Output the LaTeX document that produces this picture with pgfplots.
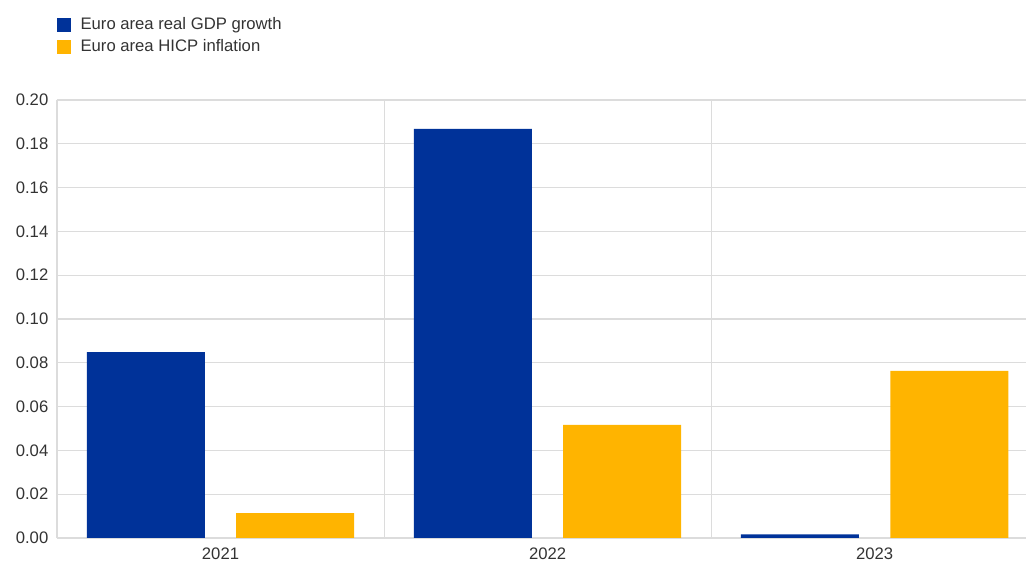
\documentclass[border=0pt]{standalone}
\usepackage{fontspec}
\setmainfont{Liberation Sans}
\usepackage{pgfplots}
\pgfplotsset{compat=1.18}
\definecolor{ecbblue}{HTML}{003299}
\definecolor{ecbyellow}{HTML}{FFB400}
\definecolor{gridgray}{HTML}{DCDCDC}
\definecolor{txt}{HTML}{333333}
\begin{document}
\begin{tikzpicture}
\begin{axis}[
  scale only axis,
  width=726.75pt, height=328.5pt,
  xmin=-0.5, xmax=2.463,
  ymin=0, ymax=0.2,
  ytick={0,0.02,...,0.2},
  xtick={0,1,2},
  xticklabels={2021,2022,2023},
  minor xtick={0.5,1.5},
  xminorgrids=true, ymajorgrids=true,
  grid style={gridgray, line width=0.8pt},
  minor grid style={gridgray, line width=0.8pt},
  major tick length=0pt, minor tick length=0pt,
  axis x line*=bottom, axis y line*=left,
  axis line style={gridgray, line width=0.8pt, -},
  tick label style={font=\fontsize{12.5}{14}\selectfont, text=txt},
  /pgf/number format/assume math mode=true,
  yticklabel style={/pgf/number format/fixed, /pgf/number format/zerofill, /pgf/number format/precision=2, xshift=-3pt},
  xticklabel style={yshift=-6.5pt, inner ysep=1pt},
  legend style={draw=none, fill=none, at={(0,1)}, anchor=north west, xshift=-3pt, yshift=66pt,
     font=\fontsize{12.5}{14}\selectfont, text=txt, row sep=2pt, column sep=5pt, cells={anchor=west}},
  legend image code/.code={\fill[#1] (0pt,-5.25pt) rectangle (10.5pt,5.25pt);},
  clip=true,
]
\addplot[ybar, bar width=88.5pt, bar shift=-56pt, fill=ecbblue, draw=none] coordinates {(0,0.0849) (1,0.1868) (2,0.0017)};
\addlegendentry{Euro area real GDP growth}
\addplot[ybar, bar width=88.5pt, bar shift=56pt, fill=ecbyellow, draw=none] coordinates {(0,0.0114) (1,0.0516) (2,0.0763)};
\addlegendentry{Euro area HICP inflation}
\end{axis}
\pgfresetboundingbox
\path (current axis.south west) ++(-42.75pt,-23.25pt) coordinate (bl);
\path (current axis.north east) ++(0pt,75pt) coordinate (tr);
\path[use as bounding box] (bl) rectangle (tr);
\end{tikzpicture}
\end{document}
